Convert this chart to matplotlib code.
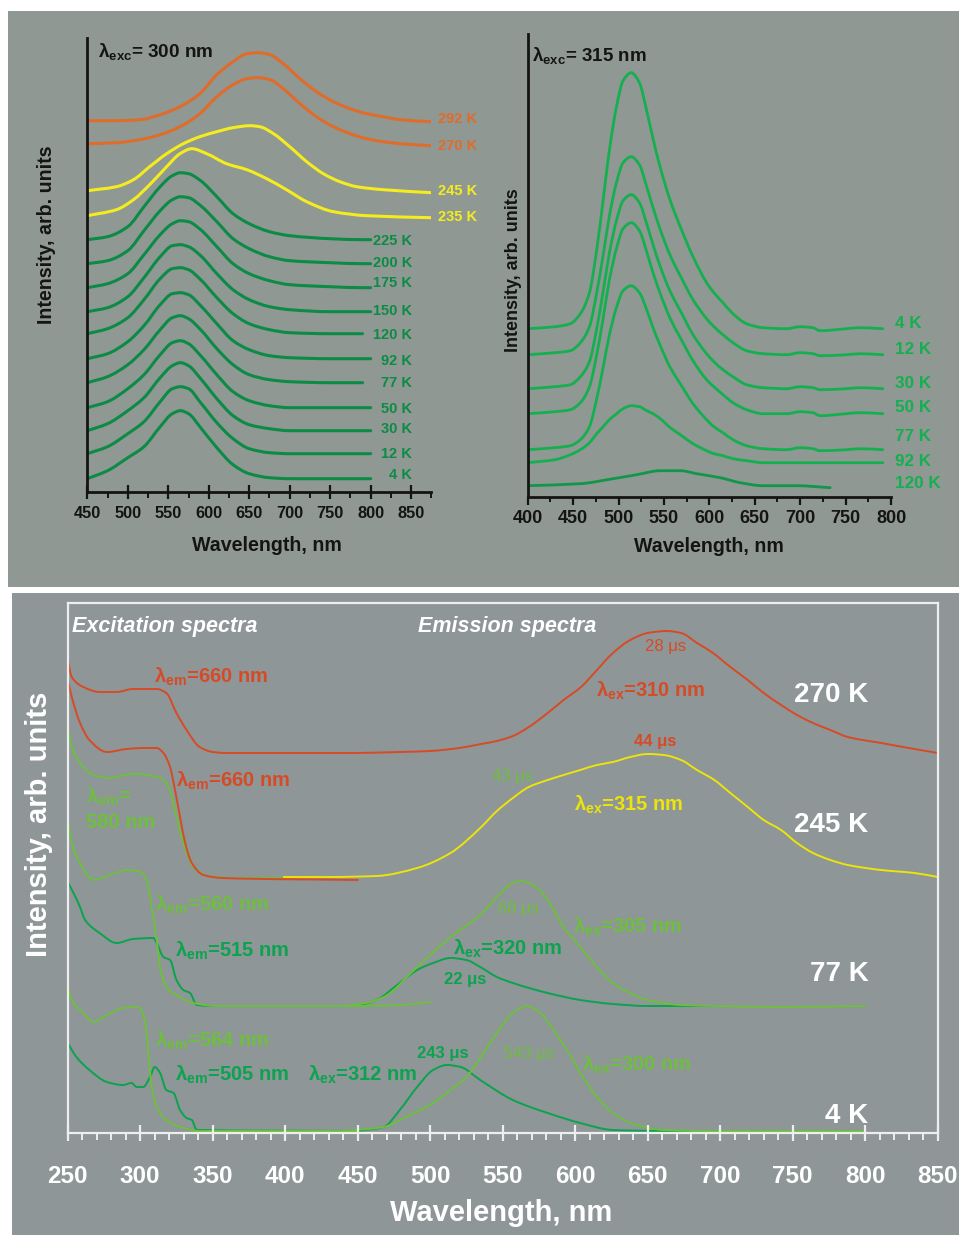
import matplotlib
matplotlib.use('Agg')
import numpy as np
import matplotlib.pyplot as plt
from matplotlib.patches import Rectangle, PathPatch
from matplotlib.path import Path
from matplotlib.ticker import MultipleLocator

plt.rcParams['font.family'] = ['Liberation Sans', 'DejaVu Sans']
plt.rcParams['mathtext.fontset'] = 'custom'
plt.rcParams['mathtext.rm'] = 'Liberation Sans:bold'
plt.rcParams['mathtext.it'] = 'Liberation Sans:bold'
plt.rcParams['mathtext.bf'] = 'Liberation Sans:bold'
plt.rcParams['mathtext.default'] = 'rm'

# ---------------- panel a: emission, lambda_exc = 300 nm ----------------
wl_a_hot = [450, 486, 515, 540, 564.5, 589, 610, 630, 647, 661, 675.6, 692, 712.7, 733, 754, 774.5, 795, 815.6, 836, 875]
a_292 = [371, 371, 372, 377, 385, 398, 417, 430, 438, 439, 437, 428, 413, 400, 390, 383, 378, 375, 372, 370]
a_270 = [348, 349, 352, 357, 365, 378, 395, 407, 413, 414, 412, 403, 388, 375, 365, 358, 353, 350, 348, 346]
wl_a_245 = [450, 486, 507, 527, 548, 568.6, 589, 610, 630, 651, 663, 680, 700, 721, 741.5, 762, 782.7, 815.6, 875]
a_245 = [301, 305, 312, 325, 338, 348, 355, 360, 364, 366, 365, 358, 345, 330, 318, 310, 305, 302, 299]
wl_a_235 = [450, 486, 507, 527, 548, 564.5, 579, 597.5, 622, 647, 671.6, 696, 721, 754, 795, 875]
a_235 = [276, 282, 292, 307, 325, 338, 343, 338, 328, 322, 313, 302, 290, 280, 276, 274]

wl_a = [450, 475, 500, 520, 540, 555, 565, 575, 590, 610, 630, 650, 675, 700, 750, 790, 800]
nan = np.nan
a_225 = [252, 255, 265, 285, 305, 316, 319, 318, 311, 295, 278, 268, 260, 256, 253, 252, 252]
a_200 = [228, 231, 241, 261, 281, 292, 295, 294, 286, 270, 253, 243, 235, 231, 229, 228, 228]
a_175 = [204, 208, 218, 237, 257, 268, 271, 270, 262, 245, 228, 218, 211, 207, 205, 204, 204]
a_150 = [180, 184, 195, 214, 235, 246, 247, 245, 236, 218, 202, 192, 185, 182, 180, 180, 180]
a_120 = [158, 163, 174, 192, 213, 223, 224, 222, 212, 194, 178, 168, 162, 159, 158, 158, nan]
a_92 = [133, 138, 150, 166, 187, 198, 199, 197, 186, 168, 151, 142, 136, 134, 133, 133, 133]
a_77 = [109, 115, 127, 142, 162, 174, 176, 173, 162, 143, 127, 117, 112, 110, 109, 109, nan]
a_50 = [84, 90, 103, 117, 137, 149, 151, 148, 136, 117, 100, 91, 86, 84, 84, 84, 84]
a_30 = [61, 68, 81, 94, 114, 126, 129, 126, 113, 93, 76, 67, 63, 61, 61, 61, 61]
a_12 = [38, 45, 58, 70, 90, 103, 105, 103, 89, 69, 53, 43, 39, 38, 38, 38, 38]
a_4 = [13, 21, 34, 45, 65, 78, 81, 78, 64, 44, 27, 18, 14, 13, 13, 13, 13]

a_hot_labels = ['292 K', '270 K', '245 K', '235 K']
a_cold_labels = ['225 K', '200 K', '175 K', '150 K', '120 K', '92 K', '77 K', '50 K', '30 K', '12 K', '4 K']

# ---------------- panel b: emission, lambda_exc = 315 nm ----------------
wl_b = [400, 430, 447, 458, 468, 476, 483, 490, 498, 505, 514, 523, 531, 538, 546, 557, 568, 582,
        597, 605, 615, 626, 641, 659, 685, 700, 714, 722, 751, 766, 791]
b_4 = [168, 170, 173, 183, 204, 247, 296, 347, 391, 416, 424, 414, 386, 358, 329, 296, 270, 240,
       214, 204, 194, 183, 173, 169, 168, 170, 169, 166, 168, 169, 168]
b_12 = [142, 144, 146, 154, 170, 204, 241, 281, 315, 334, 340, 332, 310, 289, 267, 241, 221, 197,
        178, 170, 162, 154, 146, 143, 142, 144, 143, 141, 142, 143, 142]
b_30 = [108, 110, 112, 120, 135, 168, 205, 244, 277, 296, 302, 294, 273, 252, 230, 205, 186, 162,
        143, 135, 127, 120, 112, 109, 108, 110, 109, 107, 108, 109, 108]
b_50 = [83, 85, 87, 94, 110, 142, 178, 217, 249, 268, 274, 266, 245, 224, 203, 178, 159, 136,
        117, 110, 102, 94, 87, 83, 83, 85, 84, 81, 83, 84, 83]
b_77 = [47, 49, 51, 57, 70, 98, 129, 162, 190, 206, 211, 204, 187, 169, 151, 129, 113, 93,
        77, 70, 64, 57, 51, 48, 47, 49, 48, 46, 47, 48, 47]
b_92 = [34, 37, 42, 47, 54, 63, 70, 77, 83, 88, 91, 90, 86, 83, 78, 69, 62, 53,
        46, 43, 41, 38, 36, 34, 34, 34, 34, 34, 34, 34, 34]
wl_b_120 = [400, 458, 494, 520, 546, 568, 586, 612, 634, 659, 696, 733]
b_120 = [11, 13, 18, 22, 26, 26, 23, 19, 14, 11, 11, 9]
b_labels = ['4 K', '12 K', '30 K', '50 K', '77 K', '92 K', '120 K']

# ---------------- panel c: excitation and emission spectra ----------------
ex270_wl = [250, 252.8, 260.8, 272, 283.8, 295, 311.4, 318, 325, 332, 341, 350, 360, 450]
ex270 = [473, 456, 446, 441, 441, 444, 444, 440, 420, 403, 386, 381, 380, 380]
em270_wl = [450, 480, 500, 520, 535, 546, 557, 568, 581, 592, 604, 615, 626, 638, 650, 663, 673, 684, 695,
            707, 719, 730, 742, 753, 764, 776, 788, 811, 834, 850]
em270 = [380, 381, 382, 385, 389, 392, 397, 406, 420, 433, 446, 463, 480, 493, 500, 502, 500, 490, 480,
         466, 453, 440, 428, 418, 410, 403, 396, 390, 384, 380]

ex245_wl = [250, 252.8, 258.5, 265, 277, 290.7, 302, 311.4, 316, 320.6, 324, 327.5, 331, 335.6, 343.6, 357, 450]
ex245 = [453, 436, 410, 393, 381, 384, 385, 385, 380, 366, 343, 316, 290, 270, 258, 255, 253]
ex580_wl = [250, 252.8, 258.5, 267.7, 279, 295, 309, 316, 320.6, 325, 329.8, 336.7, 346, 364, 400]
ex580 = [406, 386, 370, 358, 355, 359, 357, 353, 343, 316, 290, 266, 257, 255, 255]
em245_wl = [399, 430, 463, 491, 514, 534.5, 546, 557, 568, 581, 592, 603.5, 615, 626, 638, 650, 661, 673,
            684, 696, 707, 719, 730, 742, 753, 764, 776, 788, 811, 834, 850]
em245 = [256, 256, 257, 265, 280, 305, 322, 335, 346, 353, 358, 363, 368, 371, 376, 379, 378, 373,
         363, 353, 340, 326, 313, 303, 290, 280, 273, 268, 263, 260, 256]

ex560_wl = [250, 252.8, 258.5, 267.7, 279, 290.7, 300, 304.5, 306.8, 309, 311.4, 313.7, 318, 327.5, 336.7,
            352.8, 450, 480, 500]
ex560 = [313, 290, 270, 253, 258, 263, 261, 253, 236, 216, 193, 166, 146, 136, 130, 127, 127, 128, 131]
ex515_wl = [250, 254, 258.5, 262, 272, 283.8, 295, 309, 311.4, 316, 320.6, 325, 329.8, 334.4, 339, 352.8, 460]
ex515 = [251, 240, 226, 213, 200, 190, 194, 195, 190, 176, 173, 153, 143, 140, 128, 127, 127]
em320_wl = [450, 463, 479, 491, 502, 514, 525, 534.5, 546, 557, 581, 603.5, 626, 650, 700]
em320 = [127, 133, 150, 163, 170, 175, 173, 166, 156, 150, 140, 133, 129, 127, 127]
em305_wl = [440, 456, 468, 491, 514, 534.5, 546, 557, 563, 573, 581, 592, 603.5, 615, 626, 638, 650, 673,
            696, 742, 800]
em305 = [127, 130, 136, 166, 196, 218, 236, 250, 252, 246, 233, 206, 186, 166, 150, 140, 133, 128,
         127, 126, 127]

ex564_wl = [250, 252.8, 260.8, 267.7, 277, 288, 295, 300, 303, 304.5, 305.6, 308, 311.4, 318, 327.5, 341, 450]
ex564 = [148, 133, 120, 111, 118, 125, 126, 125, 113, 100, 80, 46, 26, 13, 6, 2, 2]
ex505_wl = [250, 256, 265, 277, 288, 294, 297.6, 302, 306.8, 310, 313.7, 318, 323, 327.5, 332, 335.6, 339, 450]
ex505 = [90, 76, 63, 51, 48, 50, 46, 46, 56, 66, 60, 43, 40, 23, 15, 13, 3, 2]
em312_wl = [450, 468, 479, 491, 502, 511.5, 521, 534.5, 557, 581, 603.5, 626, 661, 700]
em312 = [2, 6, 23, 46, 63, 68, 66, 53, 33, 20, 10, 3, 2, 2]
em300_wl = [440, 468, 479, 502, 514, 525, 534.5, 546, 557, 566.6, 576, 585, 594.4, 603.5, 615, 626, 638,
            661, 696, 800]
em300 = [2, 6, 13, 30, 43, 56, 75, 100, 120, 127, 120, 103, 83, 60, 36, 20, 10, 3, 2, 2]

# colours
GRAY_TOP = '#8f9893'
GRAY_BOT = '#8e9697'
ORANGE = '#e06c2a'
YELLOW = '#f4ec1e'
GREEN_A = '#0c8b46'
GREEN_B = '#14b04f'
GREEN_B2 = '#11964a'
RED = '#d64b25'
YEL_C = '#ece40a'
LGREEN = '#6dbf3d'
DGREEN = '#0aa34e'
INK = '#141414'
FRAME = '#eeeeee'


def smooth_line(ax, x, y, **kw):
    """Draw a spectrum as a smooth monotone (PCHIP-style) cubic Bezier path."""
    x = np.asarray(x, float)
    y = np.asarray(y, float)
    ok = ~np.isnan(y)
    x, y = x[ok], y[ok]
    h = np.diff(x)
    d = np.diff(y) / h
    m = np.zeros_like(y)
    m[0], m[-1] = d[0], d[-1]
    for k in range(1, len(x) - 1):
        if d[k - 1] * d[k] > 0:
            w1 = 2 * h[k] + h[k - 1]
            w2 = h[k] + 2 * h[k - 1]
            m[k] = (w1 + w2) / (w1 / d[k - 1] + w2 / d[k])
    verts = [(x[0], y[0])]
    codes = [Path.MOVETO]
    for k in range(len(x) - 1):
        verts += [(x[k] + h[k] / 3, y[k] + m[k] * h[k] / 3),
                  (x[k + 1] - h[k] / 3, y[k + 1] - m[k + 1] * h[k] / 3),
                  (x[k + 1], y[k + 1])]
        codes += [Path.CURVE4] * 3
    patch = PathPatch(Path(verts, codes), fill=False, capstyle='round', joinstyle='round', **kw)
    ax.add_patch(patch)
    return patch


W, H = 959, 1235
fig = plt.figure(figsize=(W / 100, H / 100), dpi=100)


def px_box(x0, y0, x1, y1):
    return [x0 / W, 1 - y1 / H, (x1 - x0) / W, (y1 - y0) / H]


fig.add_artist(Rectangle((8 / W, 1 - 587 / H), 1 - 8 / W, 576 / H, transform=fig.transFigure,
                         facecolor=GRAY_TOP, edgecolor='none', zorder=-10))
fig.add_artist(Rectangle((12 / W, 0), 1 - 12 / W, 1 - 593 / H, transform=fig.transFigure,
                         facecolor=GRAY_BOT, edgecolor='none', zorder=-10))


def style_top(ax):
    ax.set_facecolor('none')
    ax.spines[['top', 'right']].set_visible(False)
    for s in ('left', 'bottom'):
        ax.spines[s].set_linewidth(2)
        ax.spines[s].set_color(INK)
    ax.set_yticks([])
    ax.xaxis.set_major_locator(MultipleLocator(50))
    ax.xaxis.set_minor_locator(MultipleLocator(25))


# ---- panel a ----
ax_a = fig.add_axes(px_box(87.3, 37.7, 431.4, 491.7))
style_top(ax_a)
ax_a.set_xlim(450, 875)
ax_a.set_ylim(0, 454)
ax_a.tick_params(axis='x', which='major', direction='inout', length=10, width=1.6, color=INK,
                 labelsize=11.8, pad=5, labelcolor=INK)
ax_a.tick_params(axis='x', which='minor', direction='out', length=4, width=1.4, color=INK)
ax_a.set_xticks(range(450, 851, 50))
plt.setp(ax_a.get_xticklabels(), fontweight='bold')

for wl, yy, c in [(wl_a_hot, a_292, ORANGE), (wl_a_hot, a_270, ORANGE),
                  (wl_a_245, a_245, YELLOW), (wl_a_235, a_235, YELLOW)]:
    smooth_line(ax_a, wl, yy, color=c, lw=2.2)
for yy in [a_225, a_200, a_175, a_150, a_120, a_92, a_77, a_50, a_30, a_12, a_4]:
    smooth_line(ax_a, wl_a, yy, color=GREEN_A, lw=2.2)

hot_pos = [368.5, 341.5, 296.5, 270.5]
hot_col = [ORANGE, ORANGE, YELLOW, YELLOW]
for lab, y, c in zip(a_hot_labels, hot_pos, hot_col):
    ax_a.text(932, y, lab, color=c, fontsize=10.5, fontweight='bold', ha='right', va='baseline')
cold_pos = [246.5, 224.5, 204.5, 176.5, 152.5, 126.5, 104.5, 78.5, 58.5, 33.5, 12.5]
for lab, y in zip(a_cold_labels, cold_pos):
    ax_a.text(851, y, lab, color=GREEN_A, fontsize=10.5, fontweight='bold', ha='right', va='baseline')

ax_a.text(462.8, 435, r'λ$_{\rm exc}$= 300 nm', color=INK, fontsize=13.6, fontweight='bold',
          ha='left', va='baseline')
ax_a.set_xlabel('Wavelength, nm', fontsize=14.1, fontweight='bold', color=INK, va='center')
ax_a.xaxis.set_label_coords(267 / W, 1 - 545 / H, transform=fig.transFigure)
ax_a.set_ylabel('Intensity, arb. units', fontsize=14.1, fontweight='bold', color=INK, va='center')
ax_a.yaxis.set_label_coords(47 / W, 1 - 235 / H, transform=fig.transFigure)

# ---- panel b ----
ax_b = fig.add_axes(px_box(527.7, 34.3, 891, 496.7))
style_top(ax_b)
ax_b.set_xlim(400, 800)
ax_b.set_ylim(0, 462.4)
ax_b.tick_params(axis='x', which='major', direction='out', length=5.5, width=1.6, color=INK,
                 labelsize=13, pad=4, labelcolor=INK)
ax_b.tick_params(axis='x', which='minor', direction='out', length=3.5, width=1.4, color=INK)
ax_b.set_xticks(range(400, 801, 50))
plt.setp(ax_b.get_xticklabels(), fontweight='bold')

for yy in [b_4, b_12, b_30, b_50, b_77, b_92]:
    smooth_line(ax_b, wl_b, yy, color=GREEN_B, lw=2.0)
smooth_line(ax_b, wl_b_120, b_120, color=GREEN_B2, lw=2.0)

b_pos = [168.9, 142.3, 108.9, 84.6, 55.6, 30.6, 8.9]
for lab, y in zip(b_labels, b_pos):
    ax_b.text(804.4, y, lab, color=GREEN_B, fontsize=12.3, fontweight='bold', ha='left', va='baseline')

ax_b.text(404.4, 436, r'λ$_{\rm exc}$= 315 nm', color=INK, fontsize=13.5, fontweight='bold',
          ha='left', va='baseline')
ax_b.set_xlabel('Wavelength, nm', fontsize=14.1, fontweight='bold', color=INK, va='center')
ax_b.xaxis.set_label_coords(709 / W, 1 - 546.7 / H, transform=fig.transFigure)
ax_b.set_ylabel('Intensity, arb. units', fontsize=13, fontweight='bold', color=INK, va='center')
ax_b.yaxis.set_label_coords(514 / W, 1 - 270 / H, transform=fig.transFigure)

# ---- panel c ----
ax_c = fig.add_axes(px_box(67.7, 603, 937.7, 1133))
ax_c.set_facecolor('none')
ax_c.set_xlim(250, 850)
ax_c.set_ylim(0, 530)
for s in ax_c.spines.values():
    s.set_color(FRAME)
    s.set_linewidth(1.6)
ax_c.set_yticks([])
ax_c.xaxis.set_major_locator(MultipleLocator(50))
ax_c.xaxis.set_minor_locator(MultipleLocator(10))
ax_c.tick_params(axis='x', which='major', direction='inout', length=12, width=1.6, color=FRAME,
                 labelsize=17.5, pad=17, labelcolor='white')
ax_c.tick_params(axis='x', which='minor', direction='out', length=5, width=1.4, color=FRAME)
ax_c.set_xticks(range(250, 851, 50))
plt.setp(ax_c.get_xticklabels(), fontweight='bold')

lw_c = 1.4
# 245 K / 270 K
smooth_line(ax_c, ex580_wl, ex580, color=LGREEN, lw=lw_c)
smooth_line(ax_c, ex245_wl, ex245, color=RED, lw=lw_c)
smooth_line(ax_c, em245_wl, em245, color=YEL_C, lw=lw_c)
smooth_line(ax_c, ex270_wl, ex270, color=RED, lw=lw_c)
smooth_line(ax_c, em270_wl, em270, color=RED, lw=lw_c)
# 77 K
smooth_line(ax_c, ex515_wl, ex515, color=DGREEN, lw=lw_c)
smooth_line(ax_c, em320_wl, em320, color=DGREEN, lw=lw_c)
smooth_line(ax_c, ex560_wl, ex560, color=LGREEN, lw=lw_c)
smooth_line(ax_c, em305_wl, em305, color=LGREEN, lw=lw_c)
# 4 K
smooth_line(ax_c, ex505_wl, ex505, color=DGREEN, lw=lw_c)
smooth_line(ax_c, em312_wl, em312, color=DGREEN, lw=lw_c)
smooth_line(ax_c, ex564_wl, ex564, color=LGREEN, lw=lw_c)
smooth_line(ax_c, em300_wl, em300, color=LGREEN, lw=lw_c)

hdr = dict(color='white', fontsize=15.5, fontweight='bold', fontstyle='italic', ha='left', va='baseline')
ax_c.text(252.8, 501, 'Excitation spectra', **hdr)
ax_c.text(491.8, 501, 'Emission spectra', **hdr)

lam = dict(fontsize=14.5, fontweight='bold', ha='left', va='baseline')
ax_c.text(309.6, 449.8, r'λ$_{\rm em}$=660 nm', color=RED, **lam)
ax_c.text(324.7, 346.8, r'λ$_{\rm em}$=660 nm', color=RED, **lam)
ax_c.text(262.6, 329.8, r'λ$_{\rm em}$=', color=LGREEN, **lam)
ax_c.text(262.6, 304.8, '580 nm', color=LGREEN, **lam)
ax_c.text(310.2, 222.8, r'λ$_{\rm em}$=560 nm', color=LGREEN, **lam)
ax_c.text(324.0, 176.8, r'λ$_{\rm em}$=515 nm', color=DGREEN, **lam)
ax_c.text(310.2, 85.8, r'λ$_{\rm em}$=564 nm', color=LGREEN, **lam)
ax_c.text(324.0, 52.8, r'λ$_{\rm em}$=505 nm', color=DGREEN, **lam)
ax_c.text(415.8, 52.8, r'λ$_{\rm ex}$=312 nm', color=DGREEN, **lam)
ax_c.text(516.0, 177.8, r'λ$_{\rm ex}$=320 nm', color=DGREEN, **lam)
ax_c.text(598.7, 200.8, r'λ$_{\rm ex}$=305 nm', color=LGREEN, **lam)
ax_c.text(604.9, 62.8, r'λ$_{\rm ex}$=300 nm', color=LGREEN, **lam)
ax_c.text(614.6, 436.8, r'λ$_{\rm ex}$=310 nm', color=RED, **lam)
ax_c.text(599.4, 322.8, r'λ$_{\rm ex}$=315 nm', color=YEL_C, **lam)

tau = dict(fontsize=12, ha='center', va='baseline')
ax_c.text(662.2, 482, '28 μs', color=RED, **tau)
ax_c.text(655.3, 387, '44 μs', color=RED, fontweight='bold', **tau)
ax_c.text(557.0, 352, '43 μs', color=LGREEN, **tau)
ax_c.text(561.1, 220, '68 μs', color=LGREEN, **tau)
ax_c.text(523.8, 149, '22 μs', color=DGREEN, fontweight='bold', **tau)
ax_c.text(509.0, 75, '243 μs', color=DGREEN, fontweight='bold', **tau)
ax_c.text(568.0, 75, '543 μs', color=LGREEN, **tau)

temp = dict(color='white', fontsize=20, fontweight='bold', ha='right', va='baseline')
for lab, y in zip(['270 K', '245 K', '77 K', '4 K'], [431, 301, 152, 10]):
    ax_c.text(802.3, y, lab, **temp)

ax_c.set_xlabel('Wavelength, nm', fontsize=21, fontweight='bold', color='white', va='center')
ax_c.xaxis.set_label_coords(501 / W, 1 - 1213 / H, transform=fig.transFigure)
ax_c.set_ylabel('Intensity, arb. units', fontsize=21, fontweight='bold', color='white', va='center')
ax_c.yaxis.set_label_coords(39 / W, 1 - 824 / H, transform=fig.transFigure)

fig.savefig('out.png', dpi=100)
